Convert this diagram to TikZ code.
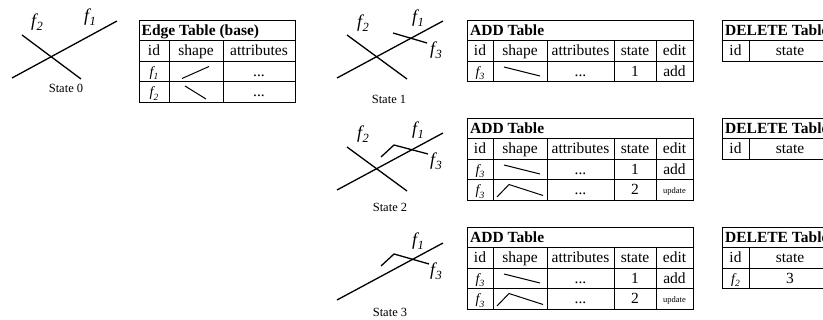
\documentclass[tikz,border=0pt]{standalone}
\usepackage{fontspec}
\setmainfont{Liberation Serif}
\usetikzlibrary{positioning}

% f with an italic subscript: #1 index, #2 size, #3 subscript size
\newcommand{\fsub}[3]{{\fontsize{#2}{#2}\selectfont\itshape f\kern0.3pt\raisebox{-0.22em}{\fontsize{#3}{#3}\selectfont #1}}}
\newcommand{\flab}[1]{\fsub{#1}{18}{12.5}}
\newcommand{\fcell}[1]{\fsub{#1}{14}{9.5}}

% grid of an ADD table: #1 top, #2 number of rows
\newcommand{\addgrid}[2]{%
  \pgfmathtruncatemacro\lastsep{#2-1}
  \draw[grid] (467,#1) rectangle (693,{#1+#2*20.5});
  \foreach \r in {1,...,\lastsep} \draw[grid] (467,{#1+\r*20.5}) -- (693,{#1+\r*20.5});
  \foreach \c in {493,547,614,656} \draw[grid] (\c,{#1+20.5}) -- (\c,{#1+#2*20.5});
}
% grid of a DELETE table
\newcommand{\delgrid}[2]{%
  \pgfmathtruncatemacro\lastsep{#2-1}
  \draw[grid] (722,#1) rectangle (832,{#1+#2*20.5});
  \foreach \r in {1,...,\lastsep} \draw[grid] (722,{#1+\r*20.5}) -- (832,{#1+\r*20.5});
  \draw[grid] (749,{#1+20.5}) -- (749,{#1+#2*20.5});
}

\begin{document}
\begin{tikzpicture}[x=1pt,y=-1pt,
  every node/.style={inner sep=0pt},
  stroke/.style={line width=1.3pt},
  grid/.style={line width=0.9pt},
  icon/.style={line width=1pt},
  hdr/.style={anchor=base west,font=\fontsize{15.5}{16}\selectfont\bfseries},
  cell/.style={anchor=base,font=\fontsize{15.5}{16}\selectfont},
  small/.style={anchor=base,font=\fontsize{8.5}{9}\selectfont},
  statelbl/.style={font=\fontsize{12.5}{12.5}\selectfont}]
\path[use as bounding box,clip] (0,0) rectangle (823,320);

% State 0
\draw[stroke] (12,78) -- (117,21);
\draw[stroke] (22,35) -- (81,79);
\node (s0f2) at (37,22) {\flab{2}};
\node (s0f1) at (90,17) {\flab{1}};
\node[statelbl] (s0) at (66,88) {State 0};

% Edge table
\draw[grid] (139,20) rectangle (295,102);
\foreach \r in {1,2,3} \draw[grid] (139,{20+\r*20.5}) -- (295,{20+\r*20.5});
\foreach \c in {169,223} \draw[grid] (\c,40.5) -- (\c,102);
\node[hdr] (edgehd) at (141.5,35.5) {Edge Table (base)};
\node[cell] (edgeid) at (154,56) {id};
\node[cell] (edgeshape) at (196,56) {shape};
\node[cell] (edgeattr) at (259,56) {attributes};
\node[anchor=base] (edgef1) at (154,76.5) {\fcell{1}};
\draw[icon] (182,78.5) -- (209,66.5);
\node[cell] (edgedots1) at (259,76.5) {...};
\node[anchor=base] (edgef2) at (154,97) {\fcell{2}};
\draw[icon] (185,86) -- (206,99);
\node[cell] (edgedots2) at (259,97) {...};

% State 1
\draw[stroke] (337,78) -- (443,21);
\draw[stroke] (347,35) -- (407,79);
\draw[stroke] (393,33) -- (427,43);
\node (s1f2) at (363,23) {\flab{2}};
\node (s1f1) at (418,18) {\flab{1}};
\node (s1f3) at (436,50) {\flab{3}};
\node[statelbl] (s1) at (389,99) {State 1};

\addgrid{20}{3}
\node[hdr] (add1hd) at (470,35.5) {ADD Table};
\node[cell] (add1id) at (480,56) {id};
\node[cell] (add1shape) at (520,56) {shape};
\node[cell] (add1attr) at (580.5,56) {attributes};
\node[cell] (add1state) at (635,56) {state};
\node[cell] (add1edit) at (674.5,56) {edit};
\node[anchor=base] (add1f3) at (480,76.5) {\fcell{3}};
\draw[icon] (504,67) -- (540,76);
\node[cell] (add1dots) at (580.5,76.5) {...};
\node[cell] (add1num) at (635,76.5) {1};
\node[cell] (add1add) at (674.5,76.5) {add};

\delgrid{20}{2}
\node[hdr] (del1hd) at (725,35.5) {DELETE Table};
\node[cell] (del1id) at (735.5,56) {id};
\node[cell] (del1state) at (790,56) {state};

% State 2
\draw[stroke] (337,190) -- (443,133);
\draw[stroke] (347,147) -- (407,191);
\draw[stroke] (381,157) -- (394,145) -- (428,154);
\node (s2f2) at (363,134) {\flab{2}};
\node (s2f1) at (418,130) {\flab{1}};
\node (s2f3) at (436,161) {\flab{3}};
\node[statelbl] (s2) at (390,207) {State 2};

\addgrid{118}{4}
\node[hdr] (add2hd) at (470,133.5) {ADD Table};
\node[cell] (add2id) at (480,154) {id};
\node[cell] (add2shape) at (520,154) {shape};
\node[cell] (add2attr) at (580.5,154) {attributes};
\node[cell] (add2state) at (635,154) {state};
\node[cell] (add2edit) at (674.5,154) {edit};
\node[anchor=base] (add2f3a) at (480,174.5) {\fcell{3}};
\draw[icon] (504,165) -- (540,174);
\node[cell] (add2dotsa) at (580.5,174.5) {...};
\node[cell] (add2numa) at (635,174.5) {1};
\node[cell] (add2add) at (674.5,174.5) {add};
\node[anchor=base] (add2f3b) at (480,195) {\fcell{3}};
\draw[icon] (497,197) -- (509,184.5) -- (543,195.5);
\node[cell] (add2dotsb) at (580.5,195) {...};
\node[cell] (add2numb) at (635,195) {2};
\node[small] (add2upd) at (674.5,193.5) {update};

\delgrid{118}{2}
\node[hdr] (del2hd) at (725,133.5) {DELETE Table};
\node[cell] (del2id) at (735.5,154) {id};
\node[cell] (del2state) at (790,154) {state};

% State 3
\draw[stroke] (337,300) -- (443,243);
\draw[stroke] (381,266) -- (394,254) -- (429,264);
\node (s3f1) at (418,241) {\flab{1}};
\node (s3f3) at (436,271) {\flab{3}};
\node[statelbl] (s3) at (390,312) {State 3};

\addgrid{227}{4}
\node[hdr] (add3hd) at (470,242.5) {ADD Table};
\node[cell] (add3id) at (480,263) {id};
\node[cell] (add3shape) at (520,263) {shape};
\node[cell] (add3attr) at (580.5,263) {attributes};
\node[cell] (add3state) at (635,263) {state};
\node[cell] (add3edit) at (674.5,263) {edit};
\node[anchor=base] (add3f3a) at (480,283.5) {\fcell{3}};
\draw[icon] (504,274) -- (540,283);
\node[cell] (add3dotsa) at (580.5,283.5) {...};
\node[cell] (add3numa) at (635,283.5) {1};
\node[cell] (add3add) at (674.5,283.5) {add};
\node[anchor=base] (add3f3b) at (480,304) {\fcell{3}};
\draw[icon] (497,306) -- (509,293.5) -- (543,304.5);
\node[cell] (add3dotsb) at (580.5,304) {...};
\node[cell] (add3numb) at (635,304) {2};
\node[small] (add3upd) at (674.5,302.5) {update};

\delgrid{227}{3}
\node[hdr] (del3hd) at (725,242.5) {DELETE Table};
\node[cell] (del3id) at (735.5,263) {id};
\node[cell] (del3state) at (790,263) {state};
\node[anchor=base] (del3f2) at (735.5,283.5) {\fcell{2}};
\node[cell] (del3num) at (790,283.5) {3};
\end{tikzpicture}
\end{document}
